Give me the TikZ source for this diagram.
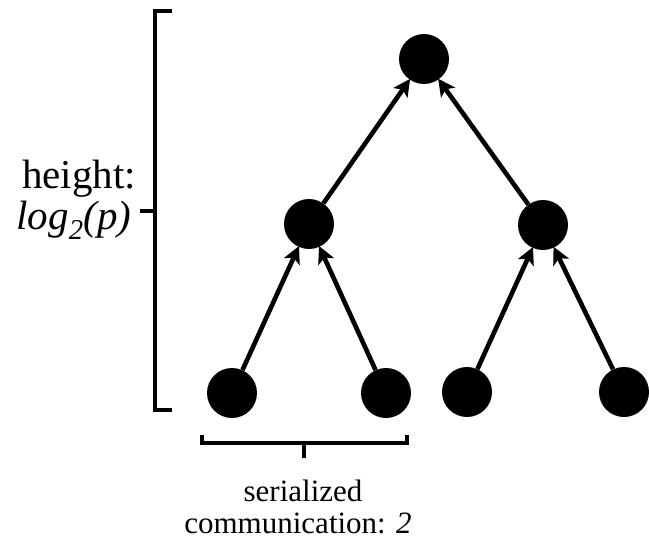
\documentclass[tikz,border=0pt]{standalone}
\usepackage{fontspec}
\setmainfont{Liberation Serif}
\usetikzlibrary{arrows.meta}
\begin{document}
\begin{tikzpicture}[x=1pt,y=-1pt,
  vertex/.style={circle,fill=black,minimum size=50pt,inner sep=0pt},
  edge/.style={line width=4.6pt,-{Stealth[length=17pt,width=17pt,inset=4pt]},shorten >=-1pt},
  brace/.style={line width=3.2pt,line cap=butt},
  bigtext/.style={font=\fontsize{41}{42}\selectfont,inner sep=0pt},
  smalltext/.style={font=\fontsize{31}{32}\selectfont,inner sep=0pt}]
\useasboundingbox (0,0) rectangle (649,541);

% tree nodes
\node[vertex] (r)  at (424,59)  {};
\node[vertex] (m1) at (309,224) {};
\node[vertex] (m2) at (543,225) {};
\node[vertex] (l1) at (232,393) {};
\node[vertex] (l2) at (386,393) {};
\node[vertex] (l3) at (467,392) {};
\node[vertex] (l4) at (624,392) {};

% reduction edges
\draw[edge] (l1) -- (m1);
\draw[edge] (l2) -- (m1);
\draw[edge] (l3) -- (m2);
\draw[edge] (l4) -- (m2);
\draw[edge] (m1) -- (r);
\draw[edge] (m2) -- (r);

% height bracket
\coordinate (ht) at (155,11);
\coordinate (hb) at (155,410);
\coordinate (hm) at (155,211);
\draw[brace] (172,11) -- (ht) -- (hb) -- (172,410);
\draw[brace] (hm) -- (140,211);
\node[bigtext,anchor=base] (h1) at (79,188) {height:};
\node[bigtext,anchor=base] (h2) at (74,229) {\itshape log\textsubscript{2}(p)};

% serialized bracket
\coordinate (sl) at (202,443);
\coordinate (sr) at (407,443);
\coordinate (sm) at (304,443);
\draw[brace] (202,435) -- (sl) -- (sr) -- (407,435);
\draw[brace] (sm) -- (304,458);
\node[smalltext,anchor=base] (s1) at (303,501) {serialized};
\node[smalltext,anchor=base] (s2) at (298,533) {communication: \textit{2}};
\end{tikzpicture}
\end{document}
